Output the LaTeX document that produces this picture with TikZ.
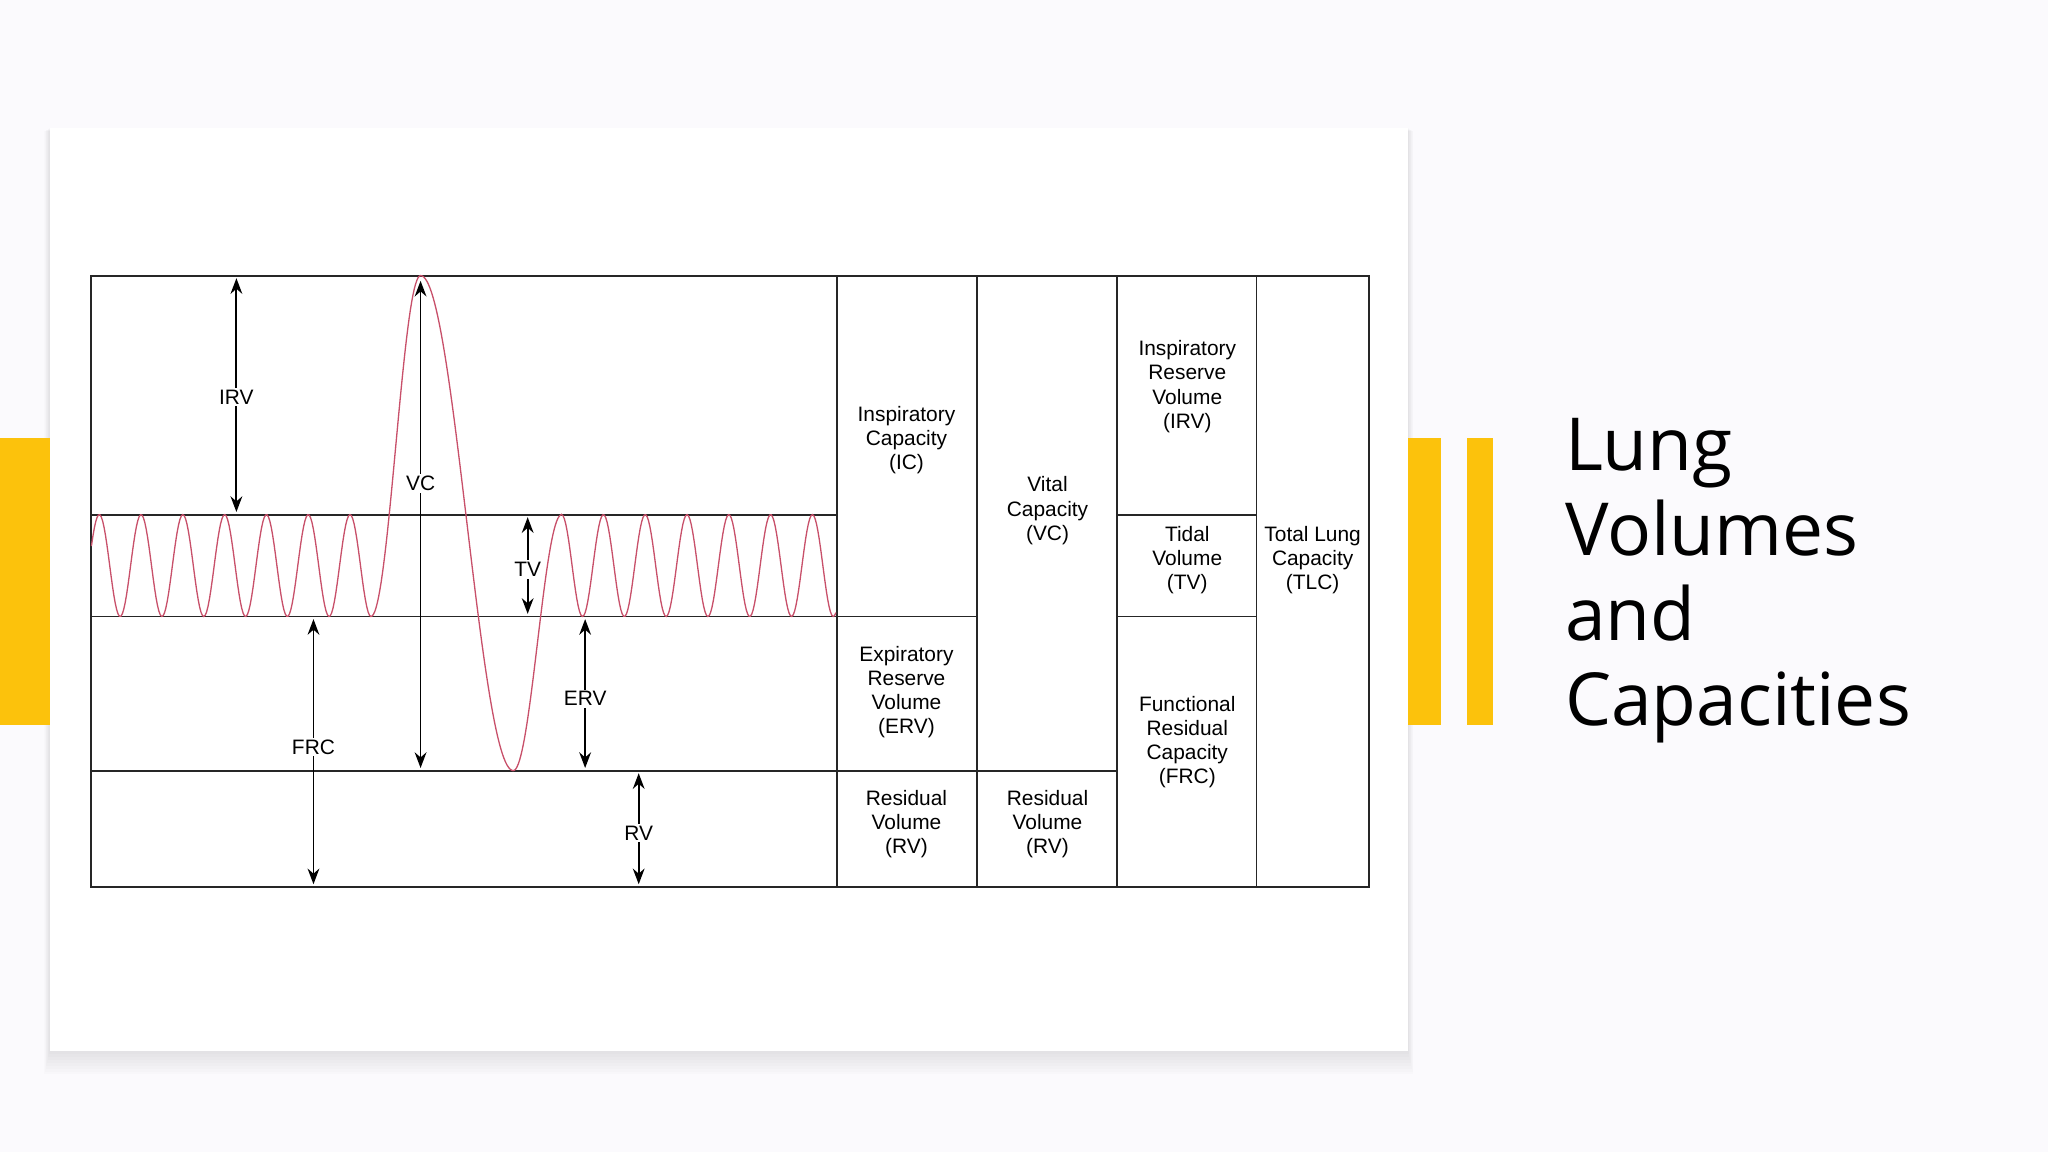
\documentclass[tikz,border=0pt]{standalone}
\usepackage{fontspec}
\setmainfont{Liberation Sans}
\newfontfamily\titlefont{Open Sans}
\usetikzlibrary{arrows.meta}
\definecolor{bgc}{HTML}{FBFAFD}
\definecolor{gold}{HTML}{FCC20C}
\definecolor{wave}{HTML}{C8506A}
\tikzset{
 tline/.style={line width=1.5pt,black!85},
 arr/.style={line width=1.4pt,{Stealth[length=12pt,width=9pt]}-{Stealth[length=12pt,width=9pt]}},
 lbl/.style={fill=white,inner sep=1.5pt,font=\fontsize{16}{18}\selectfont},
 cell/.style={align=center,font=\fontsize{16}{18.5}\selectfont,inner sep=0pt}
}
\begin{document}
\begin{tikzpicture}[x=1pt,y=-1pt]
\useasboundingbox (0,0) rectangle (1568,882);
\fill[bgc] (0,0) rectangle (1568,882);
% shadow and card
\foreach \i in {1,...,8}{\fill[black,opacity=0.012] (38-\i*0.5,98+\i*0.3) rectangle (1078+\i*0.5,805+\i*2.2);}
\fill[white] (38,98) rectangle (1078,805);
% gold bars
\fill[gold] (0,335) rectangle (38,555);
\fill[gold] (1078,335) rectangle (1103,555);
\fill[gold] (1123,335) rectangle (1143,555);
% title
\node[anchor=north west,align=left,font=\titlefont\fontsize{56}{65}\selectfont,inner sep=0pt] (title) at (1198,320) {Lung\\Volumes\\and\\Capacities};
% table
\draw[tline] (70,211) rectangle (1048,679);
\foreach \x in {641,748,855,962}{\draw[tline] (\x,211) -- (\x,679);}
\draw[tline] (70,394) -- (641,394);
\draw[tline] (855,394) -- (962,394);
\draw[tline] (70,472) -- (748,472);
\draw[tline] (855,472) -- (962,472);
\draw[tline] (70,590) -- (855,590);
% wave
\draw[wave,line width=1pt] plot[domain=70:284,samples=200] (\x,{433-39*cos(11.25*(\x-268))})
 -- plot[domain=284:322,samples=40] (\x,{341.5-130.5*cos(4.7368*(\x-322))})
 -- plot[domain=322:393,samples=60] (\x,{400.5-189.5*cos(2.5352*(\x-322))})
 -- plot[domain=393:430,samples=40] (\x,{492-98*cos(4.8649*(\x-430))})
 -- plot[domain=430:640,samples=200] (\x,{433-39*cos(11.25*(\x-430))});
% arrows
\coordinate (irvA) at (181,213); \coordinate (irvB) at (181,392);
\coordinate (vcA) at (322,215); \coordinate (vcB) at (322,588);
\coordinate (tvA) at (404,396); \coordinate (tvB) at (404,470);
\coordinate (ervA) at (448,474); \coordinate (ervB) at (448,588);
\coordinate (frcA) at (240,474); \coordinate (frcB) at (240,677);
\coordinate (rvA) at (489,592); \coordinate (rvB) at (489,677);
\draw[arr] (irvA) -- (irvB);
\draw[arr] (vcA) -- (vcB);
\draw[arr] (tvA) -- (tvB);
\draw[arr] (ervA) -- (ervB);
\draw[arr] (frcA) -- (frcB);
\draw[arr] (rvA) -- (rvB);
\node[lbl] (lirv) at (181,304) {IRV};
\node[lbl] (lvc) at (322,370) {VC};
\node[lbl] (ltv) at (404,436) {TV};
\node[lbl] (lerv) at (448,535) {ERV};
\node[lbl] (lfrc) at (240,572) {FRC};
\node[lbl] (lrv) at (489,638) {RV};
% cells
\node[cell] (ic) at (694,337) {Inspiratory\\Capacity\\(IC)};
\node[cell] (erv) at (694,530) {Expiratory\\Reserve\\Volume\\(ERV)};
\node[cell] (rv1) at (694,631) {Residual\\Volume\\(RV)};
\node[cell] (vc) at (802,391) {Vital\\Capacity\\(VC)};
\node[cell] (rv2) at (802,631) {Residual\\Volume\\(RV)};
\node[cell] (irv) at (909,296) {Inspiratory\\Reserve\\Volume\\(IRV)};
\node[cell] (tv) at (909,429) {Tidal\\Volume\\(TV)};
\node[cell] (frc) at (909,568) {Functional\\Residual\\Capacity\\(FRC)};
\node[cell] (tlc) at (1005,429) {Total Lung\\Capacity\\(TLC)};
\end{tikzpicture}
\end{document}
